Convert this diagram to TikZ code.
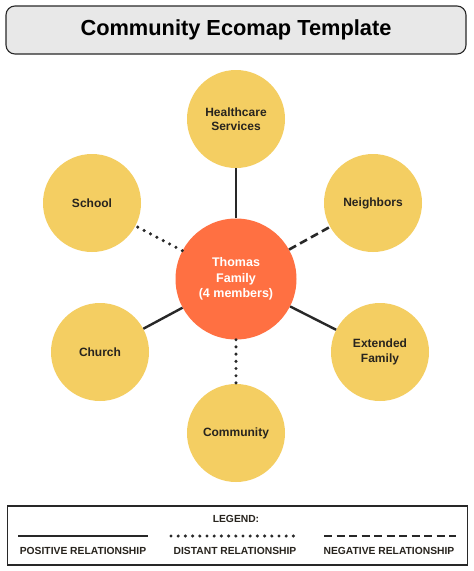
\documentclass[tikz,border=0pt]{standalone}
\usepackage{fontspec}
\setmainfont{Liberation Sans}
\definecolor{ecoyellow}{RGB}{244,206,98}
\definecolor{ecoorange}{RGB}{255,112,66}
\definecolor{titlegray}{RGB}{232,232,232}
\definecolor{edgegray}{RGB}{40,40,40}
\definecolor{txtdark}{RGB}{40,36,30}
\tikzset{
  outer/.style={circle, fill=ecoyellow, inner sep=0pt, minimum size=98pt, align=center,
    font=\bfseries\fontsize{12}{14.5}\selectfont, text=txtdark},
  center/.style={circle, fill=ecoorange, inner sep=0pt, minimum size=121pt, align=center,
    font=\bfseries\fontsize{12.5}{15.5}\selectfont, text=white},
  posline/.style={draw=edgegray, line width=2.4pt},
  distline/.style={draw=edgegray, line width=3.4pt, line cap=round, dash pattern=on 0pt off 7.2pt},
  negline/.style={draw=edgegray, line width=2.6pt, dash pattern=on 8pt off 4.5pt},
  legtext/.style={font=\bfseries\fontsize{10.3}{12}\selectfont, text=txtdark},
}
\begin{document}
\begin{tikzpicture}[x=1pt,y=-1pt]
\useasboundingbox[fill=white] (0,0) rectangle (474,571);
% title
\node[draw=edgegray, line width=1.1pt, fill=titlegray, rounded corners=9pt,
  minimum width=460pt, minimum height=48pt, inner sep=0pt,
  font=\bfseries\fontsize{21.8}{24}\selectfont] (title) at (236,30) {Community Ecomap Template};
% nodes
\node[center] (fam) at (236,279) {Thomas\\Family\\(4 members)};
\node[outer] (hc) at (236,119) {Healthcare\\Services};
\node[outer] (sch) at (92,203) {School};
\node[outer] (nb) at (373,203) {Neighbors};
\node[outer] (ch) at (100,352) {Church};
\node[outer] (ext) at (380,352) {Extended\\Family};
\node[outer] (com) at (236,433) {Community};
% connectors
\draw[posline] (fam) -- (hc);
\draw[distline] (fam) -- (sch);
\draw[negline] (fam) -- (nb);
\draw[posline] (fam) -- (ch);
\draw[posline] (fam) -- (ext);
\draw[distline] (fam) -- (com);
% legend
\node[draw=edgegray, line width=1.1pt, minimum width=460pt, minimum height=59pt, inner sep=0pt] (legbox) at (237.5,535.5) {};
\node[legtext] (legtitle) at (236,519) {LEGEND:};
\coordinate (p1) at (18,536); \coordinate (p2) at (148,536);
\coordinate (d1) at (171,536); \coordinate (d2) at (295,536);
\coordinate (n1) at (324,536); \coordinate (n2) at (456,536);
\draw[posline] (p1) -- (p2);
\draw[distline] (d1) -- (d2);
\draw[negline] (n1) -- (n2);
\node[legtext] (lp) at (83,551) {POSITIVE RELATIONSHIP};
\node[legtext] (ld) at (235,551) {DISTANT RELATIONSHIP};
\node[legtext] (ln) at (389,551) {NEGATIVE RELATIONSHIP};
\end{tikzpicture}
\end{document}
